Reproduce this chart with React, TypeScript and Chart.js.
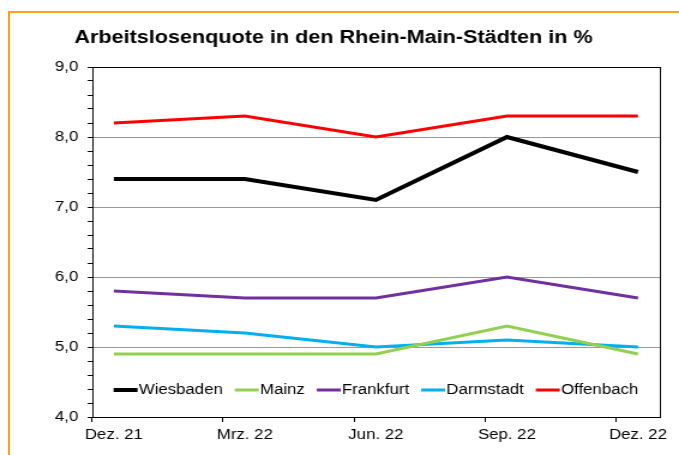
import React, { useEffect, useRef } from 'react';
import { Chart, registerables } from 'chart.js';

Chart.register(...registerables);

// ---- data ----
const months = ['Dez. 21', 'Jan. 22', 'Feb. 22', 'Mrz. 22', 'Apr. 22', 'Mai. 22', 'Jun. 22', 'Jul. 22', 'Aug. 22', 'Sep. 22', 'Okt. 22', 'Nov. 22', 'Dez. 22'];
const shownMonths = ['Dez. 21', 'Mrz. 22', 'Jun. 22', 'Sep. 22', 'Dez. 22'];
const wiesbaden = [7.4, 7.4, 7.1, 8.0, 7.5];
const mainz = [4.9, 4.9, 4.9, 5.3, 4.9];
const frankfurt = [5.8, 5.7, 5.7, 6.0, 5.7];
const darmstadt = [5.3, 5.2, 5.0, 5.1, 5.0];
const offenbach = [8.2, 8.3, 8.0, 8.3, 8.3];
const yMin = 4;
const yMax = 9;
const yMinorStep = 0.2;
const titleText = 'Arbeitslosenquote in den Rhein-Main-Städten in %';

// ---- layout (the canvas is drawn narrower and stretched horizontally) ----
const SCREEN_W = 679;
const SCREEN_H = 455;
const STRETCH = 1.2;
const LOGICAL_W = Math.round(SCREEN_W / STRETCH);
const FONT = '"Liberation Sans", Arial, Helvetica, sans-serif';

const isMajor = (v: number) => Math.abs(v - Math.round(v)) < 1e-6;

const series = [
  { label: 'Wiesbaden', values: wiesbaden, color: '#000000', width: 4 },
  { label: 'Mainz', values: mainz, color: '#92D050', width: 3 },
  { label: 'Frankfurt', values: frankfurt, color: '#7030A0', width: 3 },
  { label: 'Darmstadt', values: darmstadt, color: '#00B0F0', width: 3 },
  { label: 'Offenbach', values: offenbach, color: '#FF0000', width: 3 },
];

const decorPlugin = {
  id: 'decor',
  afterDatasetsDraw(chart: any) {
    const { ctx, chartArea } = chart;
    ctx.save();
    ctx.strokeStyle = '#000';
    ctx.lineWidth = 1;
    ctx.strokeRect(
      Math.round(chartArea.left) + 0.5,
      Math.round(chartArea.top) + 0.5,
      Math.round(chartArea.right - chartArea.left),
      Math.round(chartArea.bottom - chartArea.top)
    );
    ctx.restore();
  },
  afterDraw(chart: any) {
    const { ctx, chartArea } = chart;
    ctx.save();
    // title
    ctx.font = `bold 18px ${FONT}`;
    ctx.fillStyle = '#000';
    ctx.textAlign = 'center';
    ctx.textBaseline = 'alphabetic';
    ctx.fillText(titleText, 333.5 / STRETCH, 42.5);

    // legend
    ctx.font = `14px ${FONT}`;
    const lineLen = 20;
    const lineGap = 1;
    const itemGap = 10;
    const items = chart.data.datasets.map((ds: any) => ({
      label: ds.label,
      color: ds.borderColor,
      width: ds.borderWidth,
      tw: ctx.measureText(ds.label).width,
    }));
    const total =
      items.reduce((s: number, it: any) => s + lineLen + lineGap + it.tw, 0) + itemGap * (items.length - 1);
    let x = (chartArea.left + chartArea.right) / 2 - total / 2;
    const y = 390;
    ctx.textAlign = 'left';
    ctx.textBaseline = 'middle';
    for (const it of items) {
      ctx.strokeStyle = it.color;
      ctx.lineWidth = it.width;
      ctx.lineCap = 'butt';
      ctx.beginPath();
      ctx.moveTo(x, y);
      ctx.lineTo(x + lineLen, y);
      ctx.stroke();
      ctx.fillStyle = '#000';
      ctx.fillText(it.label, x + lineLen + lineGap, y + 0.5);
      x += lineLen + lineGap + it.tw + itemGap;
    }
    ctx.restore();
  },
};

export default function App() {
  const canvasRef = useRef<HTMLCanvasElement | null>(null);

  useEffect(() => {
    const canvas = canvasRef.current;
    if (!canvas) return;
    const chart = new Chart(canvas, {
      type: 'line',
      data: {
        labels: months,
        datasets: series.map((s) => ({
          label: s.label,
          data: shownMonths.map((m, i) => ({ x: m, y: s.values[i] })),
          borderColor: s.color,
          backgroundColor: s.color,
          borderWidth: s.width,
          pointRadius: 0,
          tension: 0,
          fill: false,
        })),
      },
      options: {
        responsive: false,
        animation: false,
        devicePixelRatio: 1,
        layout: { padding: { top: 67, right: LOGICAL_W - 660 / STRETCH, left: 0, bottom: 0 } },
        plugins: {
          legend: { display: false },
          title: { display: false },
          tooltip: { enabled: false },
        },
        scales: {
          x: {
            type: 'category',
            offset: true,
            border: { display: false },
            grid: {
              offset: true,
              drawOnChartArea: false,
              color: (c: any) => (shownMonths.includes(months[c.index]) ? '#000' : 'rgba(0,0,0,0)'),
              tickLength: 5,
              lineWidth: 1,
            },
            ticks: {
              autoSkip: false,
              maxRotation: 0,
              padding: 5,
              color: '#000',
              font: { family: FONT, size: 14 },
              callback: (_v: any, i: number) => (shownMonths.includes(months[i]) ? months[i] : ''),
            },
            afterFit: (scale: any) => {
              scale.height = SCREEN_H - 417;
            },
          },
          y: {
            type: 'linear',
            min: yMin,
            max: yMax,
            border: { display: false },
            grid: {
              drawOnChartArea: true,
              color: (c: any) => {
                const v = c.tick ? c.tick.value : NaN;
                return isMajor(v) && v > yMin && v < yMax ? '#999999' : 'rgba(0,0,0,0)';
              },
              tickColor: '#000',
              tickLength: 3.5,
              lineWidth: 1,
            },
            ticks: {
              stepSize: yMinorStep,
              autoSkip: false,
              padding: 8,
              color: '#000',
              font: { family: FONT, size: 14 },
              callback: (v: any) => (isMajor(Number(v)) ? Number(v).toFixed(1).replace('.', ',') : ''),
            },
            afterFit: (scale: any) => {
              scale.width = 92 / STRETCH;
            },
          },
        },
      },
      plugins: [decorPlugin],
    } as any);
    return () => chart.destroy();
  }, []);

  return (
    <>
      <div
        style={{
          position: 'fixed',
          left: 8,
          top: 11,
          width: 800,
          height: 600,
          borderTop: '2px solid #FFA11A',
          borderLeft: '2px solid #FFA11A',
          boxSizing: 'border-box',
        }}
      />
      <canvas
        ref={canvasRef}
        width={LOGICAL_W}
        height={SCREEN_H}
        style={{ position: 'fixed', left: 0, top: 0, width: SCREEN_W + 'px', height: SCREEN_H + 'px' }}
      />
    </>
  );
}
